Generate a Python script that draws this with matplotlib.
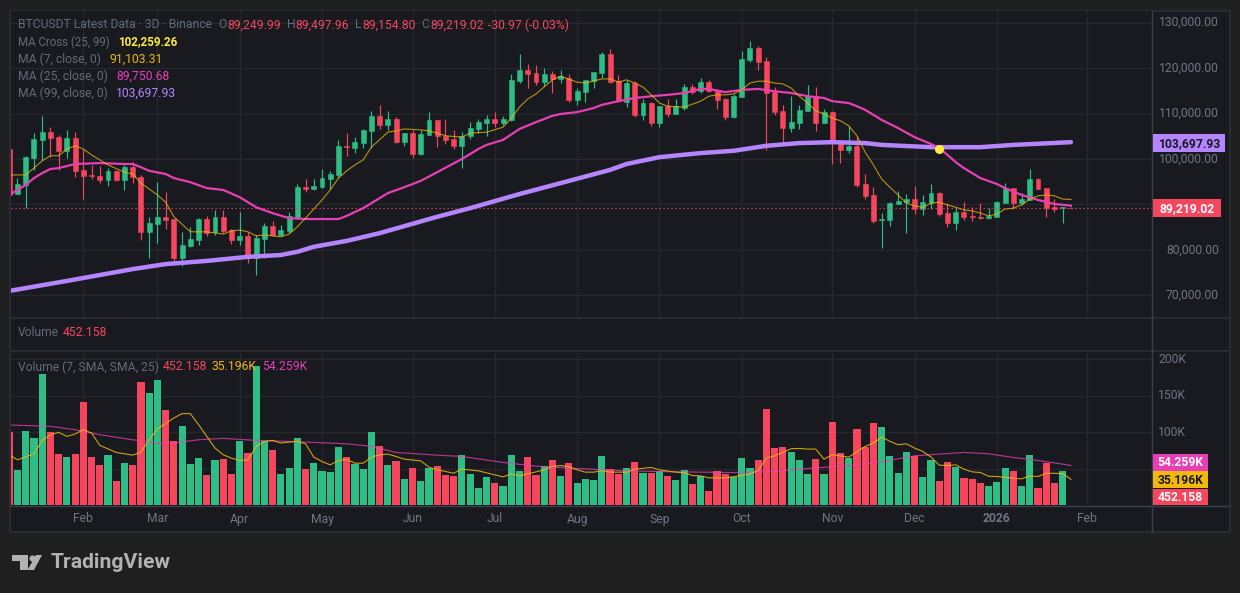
"""BTCUSDT 3D candles with moving averages and volume, TradingView dark layout."""

import matplotlib

matplotlib.use("Agg")

import matplotlib.pyplot as plt
import numpy as np
from matplotlib.patches import Polygon, Rectangle

W, H = 1240, 593

OUTER, PANE, GRID, BORDER, SCALE_LINE = "#1f1f1f", "#181a20", "#24272e", "#2b2e35", "#3a3f4b"
MUTED, TICK = "#646a76", "#6f7582"
UP, DOWN = "#2ebd85", "#f6465d"
GOLD, PINK, PURPLE, CROSS = "#f0b90b", "#e83fb5", "#b585ff", "#ffeb3b"

# Prices in thousands of USDT, one value per 3D bar.
opens = [
    102.2, 92.3, 94.3, 100.2, 104.2, 105.9, 104.8, 101.8, 104.6, 97.6,
    96.5, 96.3, 95.4, 97.4, 95.4, 98.2, 96.0, 84.0, 85.7, 87.3,
    86.8, 78.2, 80.9, 82.2, 86.8, 84.0, 87.3, 84.4, 82.2, 83.1,
    78.2, 82.4, 85.3, 83.3, 84.2, 87.3, 93.8, 93.4, 93.8, 95.6,
    96.5, 102.9, 102.4, 103.5, 106.2, 109.5, 107.5, 108.8, 103.7, 105.7,
    101.1, 105.3, 108.6, 105.1, 104.4, 102.9, 105.1, 106.6, 107.9, 108.8,
    107.9, 108.6, 117.1, 119.6, 118.9, 116.9, 118.7, 117.6, 117.8, 113.0,
    114.7, 117.1, 118.9, 123.1, 117.1, 112.5, 116.7, 109.7, 112.3, 107.9,
    111.6, 109.9, 111.2, 115.8, 114.9, 116.9, 115.2, 113.2, 109.2, 113.6,
    121.8, 124.4, 121.5, 114.7, 110.6, 106.8, 107.9, 110.6, 113.8, 107.9,
    110.3, 103.7, 102.0, 102.9, 94.5, 92.1, 86.6, 86.6, 90.1, 90.5,
    91.2, 89.0, 90.3, 92.5, 88.1, 85.9, 88.4, 87.5, 87.3, 87.0,
    87.3, 90.3, 93.6, 90.3, 91.0, 95.6, 93.6, 89.4, 89.2, 89.25,
]
highs = [
    102.2, 95.8, 100.7, 105.7, 109.5, 107.0, 105.3, 106.4, 105.9, 102.2,
    98.7, 98.5, 98.0, 97.6, 98.7, 99.3, 96.5, 87.3, 94.9, 92.7,
    86.8, 84.0, 85.1, 87.0, 87.5, 88.8, 88.8, 84.6, 88.4, 84.0,
    83.3, 85.9, 86.4, 85.5, 88.4, 94.5, 95.6, 95.6, 97.8, 97.4,
    104.2, 105.7, 104.8, 106.6, 110.6, 111.9, 110.6, 109.2, 105.7, 106.4,
    106.4, 110.3, 108.6, 108.8, 106.4, 105.9, 108.1, 108.8, 109.7, 110.3,
    109.5, 118.7, 123.1, 120.9, 120.7, 120.0, 119.3, 119.6, 118.7, 115.6,
    117.4, 119.1, 123.5, 124.2, 118.5, 117.4, 117.1, 113.2, 112.5, 111.6,
    113.2, 113.2, 116.5, 116.5, 117.8, 117.4, 115.4, 113.4, 114.3, 123.7,
    125.9, 124.8, 122.4, 115.8, 111.9, 113.8, 111.9, 116.3, 115.8, 111.0,
    110.6, 104.2, 107.3, 105.1, 96.7, 93.8, 88.1, 90.5, 93.0, 92.3,
    94.1, 92.1, 94.5, 92.7, 90.3, 89.2, 90.5, 89.4, 90.3, 89.2,
    90.8, 94.7, 93.6, 92.5, 97.8, 95.8, 93.6, 91.2, 89.4, 89.50,
]
lows = [
    92.1, 92.3, 89.2, 97.6, 99.8, 100.4, 97.6, 100.2, 96.0, 91.2,
    95.6, 94.7, 94.1, 95.2, 93.2, 94.7, 82.2, 78.2, 81.5, 84.6,
    77.4, 76.5, 80.7, 81.1, 83.1, 83.3, 83.7, 81.3, 81.1, 77.1,
    74.5, 78.2, 83.1, 83.1, 83.7, 87.0, 92.7, 93.2, 93.6, 93.4,
    95.8, 100.7, 101.3, 102.4, 102.4, 106.6, 106.4, 103.5, 102.9, 100.2,
    100.9, 105.3, 102.6, 103.3, 102.2, 98.0, 104.4, 105.7, 105.1, 107.0,
    107.5, 108.4, 116.7, 115.6, 116.3, 116.0, 114.5, 116.7, 112.5, 111.9,
    112.5, 115.6, 117.8, 116.7, 112.5, 111.4, 109.2, 108.6, 107.3, 107.0,
    109.2, 109.9, 110.8, 114.3, 114.5, 114.7, 111.0, 108.6, 109.0, 113.6,
    121.3, 119.6, 102.0, 109.7, 103.3, 105.9, 106.6, 110.6, 106.2, 107.9,
    98.9, 99.1, 101.3, 93.8, 91.2, 85.9, 80.4, 85.3, 90.1, 83.7,
    87.9, 87.7, 89.0, 87.5, 85.1, 84.4, 86.6, 86.4, 86.8, 86.8,
    87.3, 90.3, 89.0, 89.9, 91.0, 93.4, 87.3, 88.4, 85.9, 89.15,
]
closes = [
    92.1, 94.5, 100.4, 104.4, 105.9, 104.6, 101.8, 104.6, 97.4, 96.3,
    96.3, 95.4, 97.4, 95.4, 98.2, 96.0, 84.0, 85.9, 87.3, 86.6,
    78.2, 81.1, 82.4, 86.8, 83.7, 87.3, 84.2, 82.2, 83.1, 78.2,
    82.6, 85.3, 83.3, 84.4, 87.5, 93.8, 93.4, 94.1, 95.8, 96.7,
    102.9, 102.6, 103.7, 106.4, 109.5, 107.5, 108.8, 103.7, 105.7, 101.1,
    105.5, 108.6, 105.1, 104.2, 102.9, 105.1, 106.8, 108.1, 108.8, 107.9,
    108.8, 117.4, 119.6, 118.7, 116.9, 118.7, 117.6, 118.2, 113.0, 114.9,
    117.4, 119.1, 123.1, 116.9, 112.7, 116.7, 109.7, 112.3, 107.9, 111.6,
    109.9, 111.6, 115.8, 114.7, 116.9, 114.9, 113.0, 109.2, 113.8, 122.0,
    124.4, 121.3, 114.5, 110.3, 106.8, 108.1, 110.8, 113.8, 107.9, 110.3,
    103.5, 102.0, 102.9, 94.3, 91.9, 86.4, 86.8, 90.3, 90.8, 91.2,
    89.0, 90.5, 92.5, 87.9, 85.9, 88.4, 87.3, 87.3, 87.0, 87.5,
    90.5, 93.6, 90.3, 91.2, 95.6, 93.4, 89.2, 89.0, 89.4, 89.22,
]
# Volume in thousands, same bars.
volumes = [
    100.5, 48.2, 101.8, 92.2, 178.9, 100.5, 70.2, 66.1, 70.2, 141.7,
    66.1, 55.0, 68.8, 33.0, 57.8, 55.0, 167.9, 152.8, 170.6, 130.7,
    88.1, 108.7, 56.4, 64.7, 41.3, 61.9, 63.3, 42.7, 88.1, 71.6,
    189.9, 88.1, 75.7, 42.7, 50.9, 92.2, 49.5, 57.8, 46.8, 45.4,
    79.8, 66.1, 56.4, 49.5, 100.5, 81.2, 55.0, 60.5, 35.8, 50.9,
    33.0, 50.9, 53.7, 41.3, 39.9, 68.8, 42.7, 23.4, 38.5, 30.3,
    26.1, 68.8, 46.8, 66.1, 41.3, 53.7, 61.9, 39.9, 57.8, 30.3,
    35.8, 34.4, 67.4, 49.5, 42.7, 50.9, 59.2, 44.0, 44.0, 46.8,
    39.9, 34.4, 48.2, 28.9, 39.9, 19.3, 46.8, 42.7, 38.5, 64.7,
    50.9, 61.9, 132.1, 78.4, 79.8, 72.9, 61.9, 42.7, 63.3, 42.7,
    114.2, 71.6, 64.7, 104.6, 79.8, 112.8, 107.3, 67.4, 44.0, 72.9,
    67.4, 38.5, 61.9, 33.0, 59.2, 52.3, 37.2, 35.8, 30.3, 26.1,
    31.7, 50.9, 46.8, 26.1, 68.8, 23.4, 57.8, 30.3, 46.8, 0.452,
]

ma7_bars = [
    0, 2, 3, 4, 5, 6, 7, 8, 9, 10, 12, 14, 15, 16, 18, 19, 20, 22, 24, 26, 27, 28, 29, 30, 31,
    33, 34, 35, 36, 38, 39, 40, 41, 42, 43, 44, 46, 47, 48, 50, 51, 53, 55, 56, 58, 60, 61, 62,
    63, 64, 66, 67, 69, 70, 72, 73, 74, 75, 76, 77, 78, 79, 80, 82, 84, 85, 86, 87, 88, 89, 90,
    91, 92, 93, 94, 95, 96, 97, 98, 99, 100, 101, 102, 103, 104, 105, 106, 107, 108, 109, 110,
    111, 112, 113, 114, 115, 116, 117, 118, 119, 120, 121, 122, 123, 124, 125, 126, 127, 128, 129,
]
ma7 = [
    96.5, 96.5, 98.0, 99.6, 100.7, 100.7, 102.2, 102.9, 102.2, 100.9, 98.7, 97.1, 96.7, 94.7, 92.1,
    90.5, 87.3, 84.0, 84.0, 83.5, 84.2, 84.4, 84.0, 83.1, 83.3,
    82.9, 83.5, 85.1, 87.0, 91.0, 93.2, 95.8, 97.4, 98.7, 99.8, 102.6, 105.9, 106.2, 106.6, 106.4,
    106.2, 105.1, 104.8, 105.7, 105.9, 107.0, 109.0, 111.4,
    113.2, 114.3, 117.4, 118.2, 116.9, 116.7, 117.6, 117.6, 116.9, 117.4, 116.7, 115.8, 114.1, 112.3,
    111.6, 111.4, 112.7, 113.8, 114.1, 114.1, 114.3, 115.2, 116.7,
    117.1, 117.1, 116.7, 116.5, 115.6, 113.8, 112.3, 110.6, 109.9, 109.0, 108.4, 107.3, 105.1, 101.5,
    98.7, 95.6, 93.8, 92.1, 90.3, 89.7,
    89.4, 90.3, 90.5, 89.9, 89.4, 88.8, 88.6, 88.1, 87.5, 87.9, 89.0, 89.2, 89.9, 91.2, 91.9, 92.1,
    91.9, 91.2, 91.103,
]
ma25_bars = [
    0, 2, 3, 4, 5, 6, 8, 11, 14, 15, 16, 17, 19, 20, 22, 24, 26, 28, 30, 32, 34, 36, 40, 41, 43, 44,
    45, 46, 48, 50, 52, 55, 57, 58, 60, 62, 64, 66, 67, 69, 71, 72, 74, 76, 78, 80, 82, 84, 85, 87,
    89, 91, 93, 95, 97, 99, 100, 102, 103, 104, 106, 108, 110, 112, 113, 114, 115, 116, 117, 118,
    120, 121, 123, 125, 127, 129,
]
ma25 = [
    92.1, 94.3, 95.8, 96.9, 97.8, 98.0, 98.9, 99.1, 98.9, 98.9, 98.2, 97.4, 96.7, 95.8, 94.9, 93.6,
    93.2, 91.6, 89.4, 88.1, 87.0, 86.8, 86.8, 87.5, 89.2, 90.3,
    91.4, 92.5, 93.8, 95.2, 97.1, 100.0, 102.2, 103.1, 104.2, 106.6, 108.1, 109.5, 109.9, 110.3,
    111.2, 111.9, 112.7, 113.4, 113.8, 114.1, 114.5, 115.4, 115.4, 114.7,
    115.2, 115.4, 114.9, 114.5, 113.8, 113.4, 112.7, 112.3, 111.6, 110.8, 108.6, 106.8, 104.8, 103.3,
    102.4, 100.9, 99.3, 98.0, 96.9, 95.8,
    94.5, 93.6, 92.1, 91.0, 90.1, 89.751,
]
ma99_bars = [
    0, 7, 15, 19, 24, 29, 33, 35, 37, 41, 45, 52, 56, 62, 67, 73, 75, 79, 84, 88, 92, 96, 100, 104, 106, 112, 118, 122, 129,
]
ma99 = [
    71.0, 73.2, 75.8, 76.9, 77.6, 78.5, 78.9, 79.6, 80.7, 82.0, 83.7, 87.3, 89.2, 92.3, 94.7, 97.6, 98.9, 100.4, 101.3,
    101.8, 102.9, 103.5, 103.7, 103.5, 103.1, 102.6, 102.6, 103.1, 103.698,
]
vol_sma7_bars = [
    0, 1, 3, 4, 5, 6, 7, 8, 9, 10, 11, 13, 15, 16, 17, 18, 20, 21, 22, 23, 24, 25, 26, 27, 28, 29, 30,
    31, 32, 33, 34, 35, 36, 37, 38, 39, 40, 41, 42, 43, 44, 45, 46, 47, 48, 50, 51, 52, 54, 55, 57,
    59, 60, 61, 62, 64, 65, 66, 67, 68, 69, 70, 71, 72, 73, 75, 76, 78, 79, 81, 82, 83, 84, 85, 87,
    89, 90, 91, 92, 93, 95, 96, 97, 98, 99, 100, 102, 104, 105, 106, 107, 108, 109, 110, 111, 112,
    113, 114, 115, 116, 117, 118, 119, 120, 122, 123, 124, 125, 126, 128, 129,
]
vol_sma7 = [
    68.8, 61.9, 70.2, 88.5, 96.3, 99.5, 94.0, 97.2, 103.2, 98.6, 81.7, 72.0, 68.3, 72.5, 89.4, 104.1,
    119.3, 125.2, 125.2, 110.1, 94.0, 78.0, 68.8, 64.2, 61.0, 61.9, 80.3,
    87.2, 88.5, 84.9, 86.2, 87.2, 83.9, 65.6, 59.6, 55.0, 61.0, 62.4, 57.3, 57.3, 65.6, 68.8, 69.7,
    66.5, 62.8, 60.5, 51.8, 48.2, 43.6, 49.1, 46.8,
    41.3, 38.5, 42.7, 39.9, 45.4, 48.2, 52.8, 54.1, 52.3, 48.2, 45.0, 45.0, 47.2, 45.0, 45.0, 49.1,
    51.4, 48.2, 45.0, 44.5, 40.4, 39.9, 37.2, 37.2,
    40.4, 42.7, 47.2, 64.2, 67.4, 77.1, 77.5, 76.6, 76.6, 62.8, 68.8, 65.6, 80.3, 84.9, 93.1, 87.2,
    82.6, 83.9, 78.0, 73.4, 65.6,
    54.6, 54.1, 55.0, 49.1, 45.4, 44.5, 39.4, 39.0, 36.7, 35.8, 39.9, 39.0, 43.6, 43.1, 35.196,
]
vol_sma25_bars = [
    0, 5, 8, 11, 15, 18, 20, 23, 26, 30, 35, 41, 44, 47, 52, 55, 60, 64, 69, 75, 81, 88, 93, 96,
    102, 106, 110, 113, 116, 119, 122, 125, 129,
]
vol_sma25 = [
    109.6, 107.8, 103.2, 96.3, 89.4, 84.9, 84.9, 89.4, 91.3, 88.5, 86.7, 83.9, 80.3, 72.0, 68.3, 66.5,
    58.3, 53.2, 50.0, 46.8, 45.4, 44.5, 45.9, 49.1,
    54.1, 59.2, 67.4, 69.7, 72.0, 70.2, 65.1, 61.0, 54.259,
]

cross_bar, cross_price = 113, 102.259
last_price = 89.219

price_ticks = [70, 80, 90, 100, 110, 120, 130]
# 90,000.00 sits behind the last-price chip in the original, so it has no label here.
price_label_ticks = [70, 80, 100, 110, 120, 130]
price_labels = ["70,000.00", "80,000.00", "100,000.00", "110,000.00", "120,000.00", "130,000.00"]
volume_ticks = [50, 100, 150, 200]
volume_labels = ["100K", "150K", "200K"]
month_bars = [9, 18, 28, 38, 49, 59, 69, 79, 89, 100, 110, 120, 131]
month_labels = ["Feb", "Mar", "Apr", "May", "Jun", "Jul", "Aug", "Sep", "Oct", "Nov", "Dec", "2026", "Feb"]

FONT = "Roboto"
plt.rcParams["font.family"] = FONT


def pane_axes(figure, left, top, right, bottom):
    """Axes placed by pixel box, y measured from the top of the image."""
    axes = figure.add_axes([left / W, 1 - bottom / H, (right - left) / W, (bottom - top) / H], facecolor=PANE)
    axes.set_xticks([])
    axes.set_yticks([])
    for side in axes.spines.values():
        side.set_visible(False)
    return axes


def label(figure, x, y, text, color, size=8.7, weight="normal", ha="left"):
    figure.text(x / W, 1 - y / H, text, color=color, fontsize=size, fontweight=weight, ha=ha, va="center", zorder=10)


def chip(figure, left, top, right, bottom, color, text, text_color):
    figure.add_artist(
        Rectangle((left / W, 1 - bottom / H), (right - left) / W, (bottom - top) / H, transform=figure.transFigure, facecolor=color, edgecolor="none", zorder=9)
    )
    label(figure, (left + right) / 2, (top + bottom) / 2 + 0.5, text, text_color, weight="bold", ha="center")


figure = plt.figure(figsize=(W / 100, H / 100), dpi=100, facecolor=OUTER)

# Whole chart card behind the panes and scales.
figure.add_artist(
    Rectangle((10 / W, 1 - 532 / H), 1220 / W, 521 / H, transform=figure.transFigure, facecolor=PANE, edgecolor=BORDER, linewidth=1.2, zorder=-1)
)

bars = np.arange(len(opens))
opens_a, closes_a = np.array(opens), np.array(closes)
highs_a, lows_a = np.array(highs), np.array(lows)
colors = [UP if c >= o else DOWN for o, c in zip(opens, closes)]
xlim = (0.15, 138.85)

# Price pane
price = pane_axes(figure, 10.5, 11, 1152, 317)
price.set_xlim(xlim)
price.set_ylim(65.27, 132.53)
for tick in price_ticks:
    price.axhline(tick, color=GRID, linewidth=1, zorder=0)
for bar in month_bars:
    price.axvline(bar, color=GRID, linewidth=1, zorder=0)
price.vlines(bars, lows_a, highs_a, colors=colors, linewidth=0.85, zorder=2)
price.bar(bars, np.abs(closes_a - opens_a), bottom=np.minimum(opens_a, closes_a), width=0.6, color=colors, edgecolor=colors, linewidth=0.4, zorder=3)
price.axhline(last_price, color=DOWN, linewidth=0.9, linestyle=(0, (1, 2.2)), zorder=4)
price.plot(ma99_bars, ma99, color=PURPLE, linewidth=3.2, solid_capstyle="round", zorder=5)
price.plot(ma25_bars, ma25, color=PINK, linewidth=1.6, zorder=6)
price.plot(ma7_bars, ma7, color=GOLD, linewidth=0.8, alpha=0.75, zorder=7)
price.scatter([cross_bar], [cross_price], s=42, color=CROSS, linewidth=0, zorder=8)

# Empty study pane and volume pane
pane_axes(figure, 10.5, 318, 1152, 351)
volume = pane_axes(figure, 10.5, 351, 1152, 505)
volume.set_xlim(xlim)
volume.set_ylim(0, 211)
for tick in volume_ticks:
    volume.axhline(tick, color=GRID, linewidth=1, zorder=0)
for bar in month_bars:
    volume.axvline(bar, color=GRID, linewidth=1, zorder=0)
volume.bar(bars, volumes, width=0.87, color=colors, linewidth=0, zorder=2)
volume.plot(vol_sma25_bars, vol_sma25, color=PINK, linewidth=0.85, alpha=0.75, zorder=3)
volume.plot(vol_sma7_bars, vol_sma7, color=GOLD, linewidth=0.8, alpha=0.85, zorder=4)

# Pane separators
for y in (317.5, 351):
    figure.add_artist(plt.Line2D([10 / W, 1229 / W], [1 - y / H, 1 - y / H], color=BORDER, linewidth=1.2))
figure.add_artist(plt.Line2D([10 / W, 1229 / W], [1 - 505.5 / H, 1 - 505.5 / H], color=SCALE_LINE, linewidth=1))
figure.add_artist(plt.Line2D([1152 / W, 1152 / W], [1 - 11 / H, 1 - 532 / H], color=SCALE_LINE, linewidth=1))

# Legends
label(figure, 18, 25, "BTCUSDT Latest Data · 3D · Binance", MUTED)
for x, text, color in [
    (218, "O", MUTED), (227, "89,249.99", DOWN), (287, "H", MUTED), (295, "89,497.96", DOWN),
    (355, "L", MUTED), (362, "89,154.80", DOWN), (421, "C", MUTED), (430, "89,219.02", DOWN),
    (488, "-30.97 (-0.03%)", DOWN),
]:
    label(figure, x, 25, text, color)
label(figure, 18, 42, "MA Cross (25, 99)", MUTED, size=8.3)
label(figure, 118, 42, "102,259.26", CROSS, size=8.4, weight="bold")
label(figure, 18, 59, "MA (7, close, 0)", MUTED)
label(figure, 109, 59, "91,103.31", GOLD)
label(figure, 18, 76, "MA (25, close, 0)", MUTED)
label(figure, 116, 76, "89,750.68", PINK)
label(figure, 18, 93, "MA (99, close, 0)", MUTED)
label(figure, 116, 93, "103,697.93", PURPLE)
label(figure, 18, 333, "Volume", MUTED)
label(figure, 63, 333, "452.158", DOWN)
label(figure, 18, 367, "Volume (7, SMA, SMA, 25)", MUTED)
label(figure, 163, 367, "452.158", DOWN)
label(figure, 212, 367, "35.196K", GOLD)
label(figure, 262, 367, "54.259K", PINK)

# Price and volume scales, read back from the pane transforms
for tick, text in zip(price_label_ticks, price_labels):
    y_frac = price.transData.transform((0, tick))[1] / H
    figure.text(1219 / W, y_frac, text, color=TICK, fontsize=8.7, ha="right", va="center")
for tick, text in zip(volume_ticks[1:], volume_labels):
    y_frac = volume.transData.transform((0, tick))[1] / H
    figure.text(1186 / W, y_frac, text, color=TICK, fontsize=8.7, ha="right", va="center")
for bar, text in zip(month_bars, month_labels):
    x_frac = price.transData.transform((bar, 100))[0] / W
    figure.text(x_frac, 1 - 519 / H, text, color=TICK, fontsize=8.7, ha="center", va="center", fontweight="bold" if text == "2026" else "normal")

chip(figure, 1153, 134, 1225, 152, PURPLE, "103,697.93", "#181a20")
chip(figure, 1153, 199, 1221, 217, DOWN, "89,219.02", "#ffffff")
chip(figure, 1153, 454, 1208, 471, PINK, "54.259K", "#ffffff")
chip(figure, 1153, 471, 1208, 488, GOLD, "35.196K", "#181a20")
chip(figure, 1153, 489, 1208, 505, DOWN, "452.158", "#ffffff")

# Wordmark
LOGO = "#b2b2b2"
logo_parts = [
    Rectangle((12 / W, 1 - 561 / H), 16 / W, 6 / H),
    Rectangle((20 / W, 1 - 570 / H), 8 / W, 15 / H),
    Polygon([(36 / W, 1 - 555 / H), (42 / W, 1 - 555 / H), (34 / W, 1 - 570 / H), (27.5 / W, 1 - 570 / H)]),
]
for part in logo_parts:
    part.set(transform=figure.transFigure, facecolor=LOGO, edgecolor="none")
    figure.add_artist(part)
figure.add_artist(plt.Line2D([31.5 / W], [1 - 558 / H], marker="o", markersize=4.4, color=LOGO, markeredgewidth=0))
label(figure, 51, 563, "TradingView", LOGO, size=15.2, weight="bold")

figure.savefig("out.png", dpi=100, facecolor=OUTER)
plt.close(figure)
